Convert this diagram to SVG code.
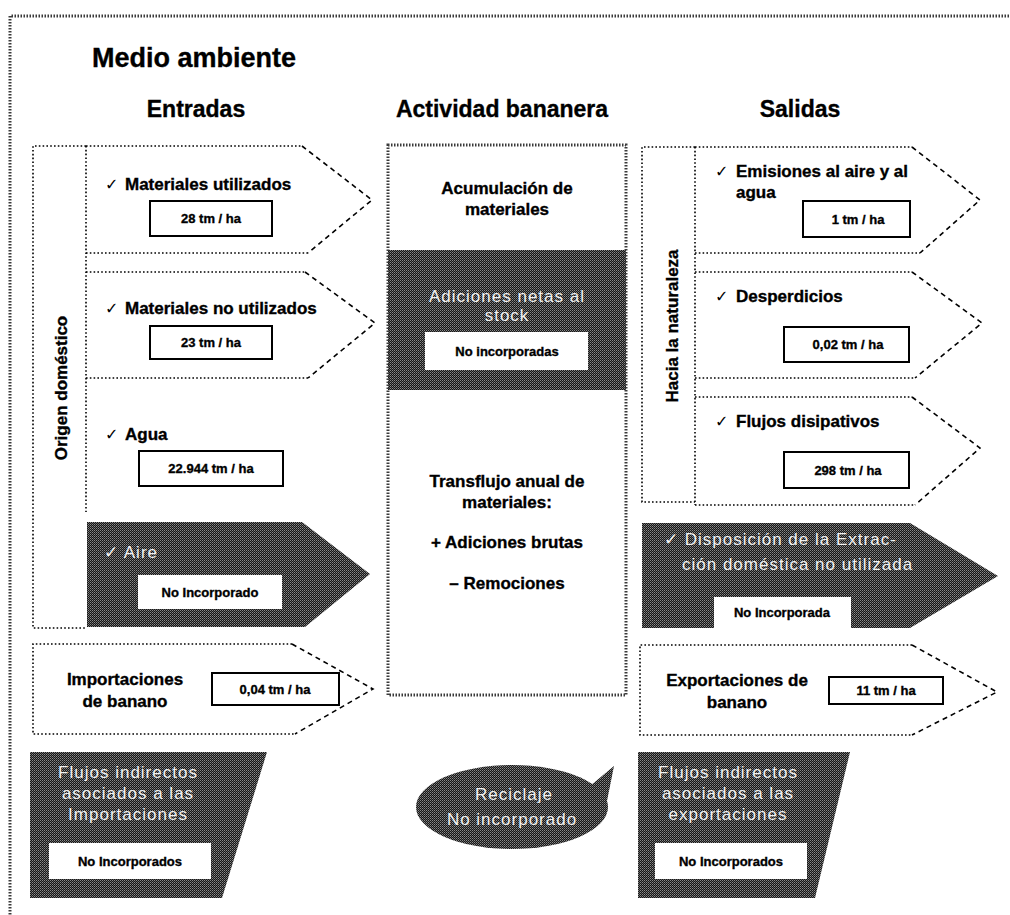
<svg xmlns="http://www.w3.org/2000/svg" width="1010" height="915" viewBox="0 0 1010 915">
<defs>
  <!-- halftone fill used by the "not incorporated" shapes -->
  <pattern id="dither" width="2" height="2" patternUnits="userSpaceOnUse">
    <rect width="2" height="2" fill="#161616"/>
    <rect width="1" height="1" fill="#8a8a8a"/>
    <rect x="1" y="1" width="1" height="1" fill="#5e5e5e"/>
  </pattern>
</defs>
<style>
  .t {font-family:"Liberation Sans",Arial,sans-serif; font-weight:bold; fill:#000; stroke:#000; stroke-width:0.35px}
  .h1 {font-size:27px}
  .h2 {font-size:23px; text-anchor:middle}
  .body {font-size:17px}
  .c {text-anchor:middle}
  .val {font-size:13px; text-anchor:middle}
  .chk {font-family:"DejaVu Sans",sans-serif; font-weight:bold; font-size:16px; fill:#000}
  .light {font-family:"Liberation Sans",Arial,sans-serif; font-size:17px; fill:#f2f2f2; text-anchor:middle; letter-spacing:1px}
  .light.l {text-anchor:start}
  .dot {fill:none; stroke:#000; stroke-width:1.6; stroke-dasharray:1.6 2.2}
  .dash {fill:none; stroke:#000; stroke-width:1.6; stroke-dasharray:5 4}
  .vbox {fill:#fff; stroke:#000; stroke-width:2}
  .wbox {fill:#fff}
  .dark {fill:url(#dither)}
  .frame {fill:none; stroke:#3a3a3a; stroke-width:3; stroke-dasharray:1.5 1.5}
</style>

<rect width="1010" height="915" fill="#fff"/>

<!-- environment frame -->
<g id="medio-ambiente">
  <path class="frame" d="M1012,16 H10 V917"/>
  <text class="t h1" x="92" y="67">Medio ambiente</text>
</g>

<!-- column headings -->
<g id="encabezados">
  <text class="t h2" x="196" y="117">Entradas</text>
  <text class="t h2" x="502" y="117">Actividad bananera</text>
  <text class="t h2" x="800" y="117">Salidas</text>
</g>

<!-- ===== Inputs ===== -->
<g id="origen-domestico">
  <path class="dot" d="M86,146 H33 V628 H87"/>
  <path class="dot" d="M86,146 V512"/>
  <text class="t" font-size="17" transform="translate(67,388) rotate(-90)" text-anchor="middle">Origen doméstico</text>
</g>

<g id="materiales-utilizados">
  <path class="dot" d="M86,146 H302 M86,253 H308"/>
  <path class="dash" d="M302,146 L372,200 L308,253"/>
  <text class="chk" x="105" y="190">✓</text>
  <text class="t body" x="125" y="190">Materiales utilizados</text>
  <rect class="vbox" x="150" y="201" width="122" height="35"/>
  <text class="t val" x="211" y="223">28 tm / ha</text>
</g>

<g id="materiales-no-utilizados">
  <path class="dot" d="M86,272 H305 M86,378 H308"/>
  <path class="dash" d="M305,272 L375,323 L308,378"/>
  <text class="chk" x="105" y="314">✓</text>
  <text class="t body" x="125" y="314">Materiales no utilizados</text>
  <rect class="vbox" x="150" y="326" width="122" height="33"/>
  <text class="t val" x="211" y="347">23 tm / ha</text>
</g>

<g id="agua">
  <text class="chk" x="105" y="440">✓</text>
  <text class="t body" x="125" y="440">Agua</text>
  <rect class="vbox" x="139" y="451" width="144" height="35"/>
  <text class="t val" x="211" y="473">22.944 tm / ha</text>
</g>

<g id="aire">
  <polygon class="dark" points="87,522 302,522 370,574 305,627 87,627"/>
  <text class="light l" x="104" y="558" font-size="16">✓ Aire</text>
  <rect class="wbox" x="138" y="575" width="144" height="34"/>
  <text class="t val" x="210" y="597">No Incorporado</text>
</g>

<g id="importaciones">
  <path class="dot" d="M292,644 H33 V734 H295"/>
  <path class="dash" d="M292,644 L373,689 L295,734"/>
  <text class="t body c" x="125" y="685">Importaciones</text>
  <text class="t body c" x="125" y="707">de banano</text>
  <rect class="vbox" x="212" y="673" width="127" height="32"/>
  <text class="t val" x="275" y="694">0,04 tm / ha</text>
</g>

<g id="flujos-indirectos-importaciones">
  <polygon class="dark" points="30,752 267,752 222,898 30,898"/>
  <text class="light" x="128" y="778">Flujos indirectos</text>
  <text class="light" x="128" y="799">asociados a las</text>
  <text class="light" x="128" y="820">Importaciones</text>
  <rect class="wbox" x="49" y="843" width="162" height="36"/>
  <text class="t val" x="130" y="866">No Incorporados</text>
</g>

<!-- ===== Banana activity ===== -->
<g id="actividad-bananera">
  <rect class="dark" x="388" y="250" width="238" height="140"/>
  <rect class="frame" x="388" y="145" width="238" height="550"/>
  <text class="t body c" x="507" y="194">Acumulación de</text>
  <text class="t body c" x="507" y="215">materiales</text>
  <text class="light" x="507" y="302" font-size="18">Adiciones netas al</text>
  <text class="light" x="507" y="321" font-size="18">stock</text>
  <rect class="wbox" x="425" y="332" width="163" height="38"/>
  <text class="t val" x="507" y="356">No incorporadas</text>
  <text class="t body c" x="507" y="487">Transflujo anual de</text>
  <text class="t body c" x="507" y="508">materiales:</text>
  <text class="t body c" x="507" y="548">+ Adiciones brutas</text>
  <text class="t body c" x="507" y="589">– Remociones</text>
</g>

<g id="reciclaje">
  <ellipse class="dark" cx="512" cy="807" rx="96" ry="42"/>
  <polygon class="dark" points="590,786 614,766 606,806"/>
  <text class="light" x="514" y="800" font-size="16">Reciclaje</text>
  <text class="light" x="512" y="825" font-size="12" letter-spacing="0">No incorporado</text>
</g>

<!-- ===== Outputs ===== -->
<g id="hacia-la-naturaleza">
  <path class="dot" d="M695,147 H642 V502 H695"/>
  <path class="dot" d="M695,147 V505"/>
  <text class="t" font-size="17" transform="translate(678,326) rotate(-90)" text-anchor="middle">Hacia la naturaleza</text>
</g>

<g id="emisiones">
  <path class="dot" d="M695,147 H912 M695,253 H920"/>
  <path class="dash" d="M912,147 L980,200 L920,253"/>
  <text class="chk" x="715" y="177">✓</text>
  <text class="t body" x="736" y="177">Emisiones al aire y al</text>
  <text class="t body" x="736" y="198">agua</text>
  <rect class="vbox" x="803" y="201" width="107" height="36"/>
  <text class="t val" x="858" y="224">1 tm / ha</text>
</g>

<g id="desperdicios">
  <path class="dot" d="M695,272 H912 M695,378 H915"/>
  <path class="dash" d="M912,272 L982,323 L915,378"/>
  <text class="chk" x="715" y="302">✓</text>
  <text class="t body" x="736" y="302">Desperdicios</text>
  <rect class="vbox" x="784" y="327" width="125" height="35"/>
  <text class="t val" x="848" y="349">0,02 tm / ha</text>
</g>

<g id="flujos-disipativos">
  <path class="dot" d="M695,397 H912 M695,505 H915"/>
  <path class="dash" d="M912,397 L980,448 L915,505"/>
  <text class="chk" x="715" y="427">✓</text>
  <text class="t body" x="736" y="427">Flujos disipativos</text>
  <rect class="vbox" x="784" y="452" width="125" height="36"/>
  <text class="t val" x="848" y="475">298 tm / ha</text>
</g>

<g id="disposicion-extraccion">
  <polygon class="dark" points="642,523 910,523 998,576 910,628 642,628"/>
  <text class="light l" x="664" y="545">✓ Disposición de la Extrac-</text>
  <text class="light l" x="682" y="570">ción doméstica no utilizada</text>
  <rect class="wbox" x="714" y="597" width="137" height="31"/>
  <text class="t val" x="782" y="617">No Incorporada</text>
</g>

<g id="exportaciones">
  <path class="dot" d="M912,645 H640 V735 H912"/>
  <path class="dash" d="M912,645 L997,692 L912,735"/>
  <text class="t body c" x="737" y="686">Exportaciones de</text>
  <text class="t body c" x="737" y="708">banano</text>
  <rect class="vbox" x="829" y="677" width="114" height="27"/>
  <text class="t val" x="886" y="695">11 tm / ha</text>
</g>

<g id="flujos-indirectos-exportaciones">
  <polygon class="dark" points="638,752 850,752 815,898 638,898"/>
  <text class="light" x="728" y="778">Flujos indirectos</text>
  <text class="light" x="728" y="799">asociados a las</text>
  <text class="light" x="728" y="820">exportaciones</text>
  <rect class="wbox" x="655" y="843" width="152" height="36"/>
  <text class="t val" x="731" y="866">No Incorporados</text>
</g>
</svg>
